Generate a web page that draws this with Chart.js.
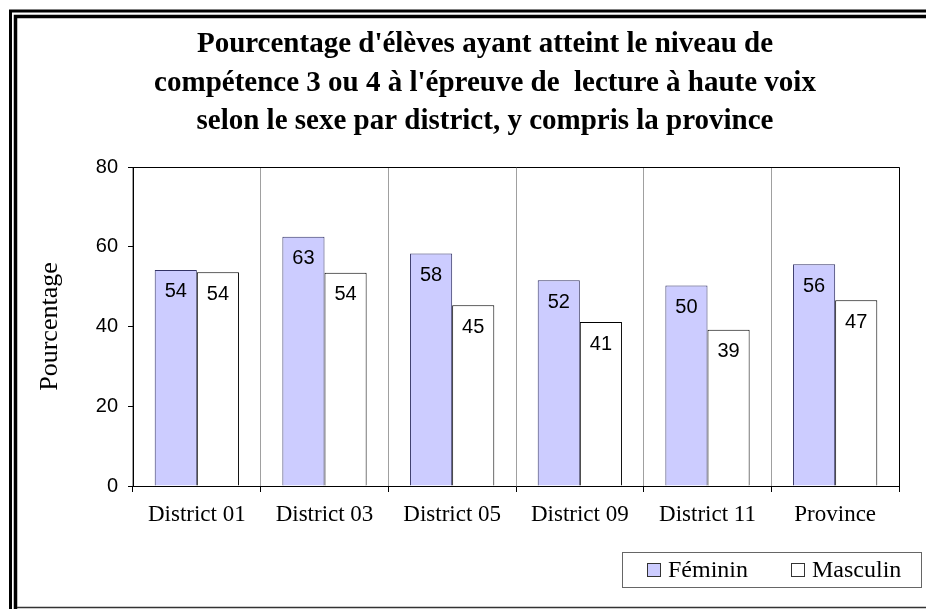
<!DOCTYPE html>
<html>
<head>
<meta charset="utf-8">
<script src="https://cdn.jsdelivr.net/npm/chart.js@4"></script>
<style>
  body { margin: 0; background: #fff; }
  canvas { display: block; }
</style>
</head>
<body>
<canvas id="grafico" width="926" height="609"></canvas>
<script>
// Données
const districts = ['District 01', 'District 03', 'District 05', 'District 09', 'District 11', 'Province'];
const feminin = [54.2, 62.5, 58.3, 51.6, 50.3, 55.6];
const masculin = [53.6, 53.5, 45.3, 41.1, 39.2, 46.6];
const yTicks = [0, 20, 40, 60, 80];
const titre = [
  "Pourcentage d'élèves ayant atteint le niveau de",
  "compétence 3 ou 4 à l'épreuve de  lecture à haute voix",
  "selon le sexe par district, y compris la province"
];

const serif = "'Liberation Serif', 'Times New Roman', serif";
const sans = "'Liberation Sans', Arial, sans-serif";
const fond_fem = '#ccccff';
const bord_fem = '#333366';

// étiquettes de valeur dans le haut des barres
const etiquettes = {
  id: 'etiquettes',
  afterDatasetsDraw(chart) {
    const ctx = chart.ctx;
    ctx.save();
    ctx.font = '20px ' + sans;
    ctx.fillStyle = '#000';
    ctx.textAlign = 'center';
    ctx.textBaseline = 'middle';
    chart.data.datasets.forEach((ds, i) => {
      chart.getDatasetMeta(i).data.forEach((bar, j) => {
        ctx.fillText(Math.round(ds.data[j]), bar.x, bar.y + 22);
      });
    });
    ctx.restore();
  }
};

// cadre, titre, bordure de la zone de tracé et légende
const cadre = {
  id: 'cadre',
  beforeDraw(chart) {
    const ctx = chart.ctx;
    ctx.save();
    ctx.fillStyle = '#fff';
    ctx.fillRect(0, 0, chart.width, chart.height);
    ctx.restore();
  },
  afterDraw(chart) {
    const ctx = chart.ctx;
    const a = chart.chartArea;
    ctx.save();
    // double trait du cadre
    ctx.strokeStyle = '#000';
    ctx.lineWidth = 3;
    ctx.beginPath();
    ctx.moveTo(10.5, chart.height);
    ctx.lineTo(10.5, 11);
    ctx.lineTo(chart.width, 11);
    ctx.stroke();
    ctx.lineWidth = 3.5;
    ctx.beginPath();
    ctx.moveTo(15.5, chart.height);
    ctx.lineTo(15.5, 16.5);
    ctx.lineTo(chart.width, 16.5);
    ctx.stroke();
    ctx.strokeStyle = '#333';
    ctx.lineWidth = 1.5;
    ctx.beginPath();
    ctx.moveTo(17, 607.5);
    ctx.lineTo(chart.width, 607.5);
    ctx.stroke();

    // titre sur trois lignes
    ctx.fillStyle = '#000';
    ctx.font = 'bold 29px ' + serif;
    ctx.textAlign = 'center';
    ctx.textBaseline = 'middle';
    titre.forEach((ligne, i) => ctx.fillText(ligne, 485, 45 + i * 38.5));

    // haut et droite de la zone de tracé
    ctx.strokeStyle = '#000';
    ctx.lineWidth = 1;
    ctx.beginPath();
    ctx.moveTo(Math.round(a.left) + 0.5, Math.round(a.top) + 0.5);
    ctx.lineTo(Math.round(a.right) + 0.5, Math.round(a.top) + 0.5);
    ctx.lineTo(Math.round(a.right) + 0.5, Math.round(a.bottom) + 0.5);
    ctx.stroke();

    // légende encadrée
    ctx.strokeStyle = '#666';
    ctx.strokeRect(622.5, 552.5, 299, 35);
    const items = [[647, 668], [791, 812]];
    chart.data.datasets.forEach((ds, i) => {
      const [sx, tx] = items[i];
      ctx.fillStyle = ds.backgroundColor;
      ctx.fillRect(sx, 563, 14, 14);
      ctx.strokeStyle = '#333';
      ctx.strokeRect(sx + 0.5, 563.5, 13, 13);
      ctx.fillStyle = '#000';
      ctx.font = '24px ' + serif;
      ctx.textAlign = 'left';
      ctx.textBaseline = 'middle';
      ctx.fillText(ds.label, tx, 571);
    });
    ctx.restore();
  }
};

new Chart(document.getElementById('grafico'), {
  type: 'bar',
  data: {
    labels: districts,
    datasets: [
      {
        label: 'Féminin',
        data: feminin,
        backgroundColor: fond_fem,
        borderColor: bord_fem,
        borderWidth: 1
      },
      {
        label: 'Masculin',
        data: masculin,
        backgroundColor: '#ffffff',
        borderColor: '#000000',
        borderWidth: 1
      }
    ]
  },
  options: {
    responsive: false,
    animation: false,
    devicePixelRatio: 1,
    categoryPercentage: 0.66,
    barPercentage: 1.0,
    layout: { padding: { left: 30, right: 27, top: 167, bottom: 10 } },
    plugins: {
      legend: { display: false },
      tooltip: { enabled: false },
      title: { display: false }
    },
    scales: {
      x: {
        afterFit(scale) { scale.height = 113; },
        grid: { offset: true, color: '#a0a0a0', tickColor: '#000', tickLength: 6, drawOnChartArea: true },
        border: { color: '#000', width: 1 },
        ticks: { color: '#000', font: { family: serif, size: 23 }, padding: 9, maxRotation: 0 }
      },
      y: {
        min: 0,
        max: 80,
        afterFit(scale) { scale.width = 103; },
        afterBuildTicks(scale) { scale.ticks = yTicks.map(v => ({ value: v })); },
        grid: { drawOnChartArea: false, tickColor: '#000', tickLength: 5 },
        border: { color: '#000', width: 1 },
        ticks: { color: '#000', font: { family: sans, size: 20 }, padding: 10 },
        title: {
          display: true,
          text: 'Pourcentage',
          color: '#000',
          font: { family: serif, size: 26 },
          padding: { top: 5, bottom: 0 }
        }
      }
    }
  },
  plugins: [etiquettes, cadre]
});
</script>
</body>
</html>
